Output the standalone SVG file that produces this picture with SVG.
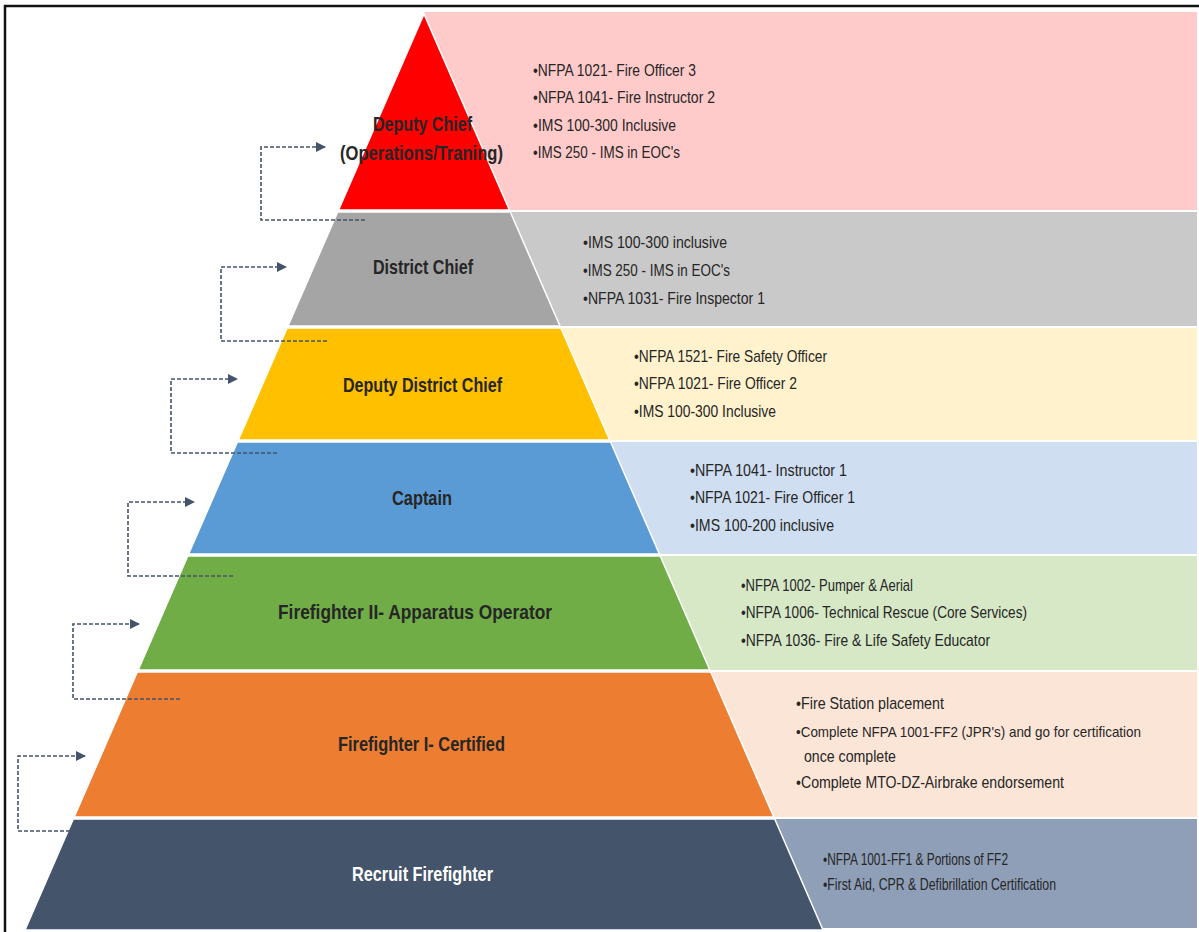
<svg xmlns="http://www.w3.org/2000/svg" width="1199" height="932" viewBox="0 0 1199 932">
<defs>
<style>
.t{font-family:"Liberation Sans",Arial,sans-serif;font-weight:bold;font-size:21px;fill:#262626}
.b{font-family:"Liberation Sans",Arial,sans-serif;font-size:17px;fill:#262626}
.lay{stroke:#ffffff;stroke-width:1.5}
.con{fill:none;stroke:#44546a;stroke-width:1.6;stroke-dasharray:4 2}
</style>
<marker id="ah" viewBox="0 0 10 10" refX="9" refY="5" markerWidth="10" markerHeight="10" markerUnits="userSpaceOnUse" orient="auto">
<path d="M0,0 L10,5 L0,10 z" fill="#44546a"/>
</marker>
</defs>
<rect x="0" y="0" width="1199" height="932" fill="#ffffff"/>
<path d="M5,932 V6 H1199" fill="none" stroke="#111" stroke-width="2.5"/>

<g id="bands">
<rect x="424" y="12" width="773" height="198" fill="#ffcaca"/>
<rect x="424" y="212" width="773" height="114" fill="#c9c9c9"/>
<rect x="424" y="328" width="773" height="112" fill="#fff2cd"/>
<rect x="424" y="442" width="773" height="112" fill="#cfdef0"/>
<rect x="424" y="556" width="773" height="114" fill="#d6e8c6"/>
<rect x="424" y="672" width="773" height="145" fill="#fbe5d6"/>
<rect x="424" y="819" width="773" height="109" fill="#8e9fb7"/>
</g>

<g id="node-deputy-chief">
<polygon class="lay" points="424,14 338.6,210 509.4,210" fill="#fe0000"/>
<text class="t" x="373" y="131" textLength="99" lengthAdjust="spacingAndGlyphs">Deputy Chief</text>
<text class="t" x="340" y="160" textLength="163" lengthAdjust="spacingAndGlyphs">(Operations/Traning)</text>
<text class="b" x="533" y="76" textLength="163" lengthAdjust="spacingAndGlyphs">•NFPA 1021- Fire Officer 3</text>
<text class="b" x="533" y="103" textLength="182" lengthAdjust="spacingAndGlyphs">•NFPA 1041- Fire Instructor 2</text>
<text class="b" x="533" y="131" textLength="143" lengthAdjust="spacingAndGlyphs">•IMS 100-300 Inclusive</text>
<text class="b" x="533" y="158" textLength="147" lengthAdjust="spacingAndGlyphs">•IMS 250 - IMS in EOC's</text>
</g>

<g id="node-district-chief">
<polygon class="lay" points="337.7,212 510.3,212 560,326 288,326" fill="#a5a5a5"/>
<text class="t" x="373" y="274" textLength="100" lengthAdjust="spacingAndGlyphs">District Chief</text>
<text class="b" x="583" y="248" textLength="144" lengthAdjust="spacingAndGlyphs">•IMS 100-300 inclusive</text>
<text class="b" x="583" y="276" textLength="147" lengthAdjust="spacingAndGlyphs">•IMS 250 - IMS in EOC's</text>
<text class="b" x="583" y="304" textLength="182" lengthAdjust="spacingAndGlyphs">•NFPA 1031- Fire Inspector 1</text>
</g>

<g id="node-deputy-district-chief">
<polygon class="lay" points="287.1,328 560.9,328 609.7,440 238.3,440" fill="#ffc000"/>
<text class="t" x="343" y="392" textLength="159" lengthAdjust="spacingAndGlyphs">Deputy District Chief</text>
<text class="b" x="634" y="362" textLength="193" lengthAdjust="spacingAndGlyphs">•NFPA 1521- Fire Safety Officer</text>
<text class="b" x="634" y="389" textLength="163" lengthAdjust="spacingAndGlyphs">•NFPA 1021- Fire Officer 2</text>
<text class="b" x="634" y="417" textLength="142" lengthAdjust="spacingAndGlyphs">•IMS 100-300 Inclusive</text>
</g>

<g id="node-captain">
<polygon class="lay" points="237.4,442 610.6,442 659.4,554 188.6,554" fill="#5b9bd5"/>
<text class="t" x="392" y="505" textLength="60" lengthAdjust="spacingAndGlyphs">Captain</text>
<text class="b" x="690" y="476" textLength="157" lengthAdjust="spacingAndGlyphs">•NFPA 1041- Instructor 1</text>
<text class="b" x="690" y="503" textLength="165" lengthAdjust="spacingAndGlyphs">•NFPA 1021- Fire Officer 1</text>
<text class="b" x="690" y="531" textLength="144" lengthAdjust="spacingAndGlyphs">•IMS 100-200 inclusive</text>
</g>

<g id="node-firefighter-2">
<polygon class="lay" points="187.8,556 660.2,556 709.8,670 138.2,670" fill="#70ad47"/>
<text class="t" x="278" y="619" textLength="274" lengthAdjust="spacingAndGlyphs">Firefighter II- Apparatus Operator</text>
<text class="b" x="741" y="591" textLength="172" lengthAdjust="spacingAndGlyphs">•NFPA 1002- Pumper &amp; Aerial</text>
<text class="b" x="741" y="618" textLength="286" lengthAdjust="spacingAndGlyphs">•NFPA 1006- Technical Rescue (Core Services)</text>
<text class="b" x="741" y="646" textLength="249" lengthAdjust="spacingAndGlyphs">•NFPA 1036- Fire &amp; Life Safety Educator</text>
</g>

<g id="node-firefighter-1">
<polygon class="lay" points="137.3,672 710.7,672 773.8,817 74.2,817" fill="#ed7d31"/>
<text class="t" x="338" y="751" textLength="167" lengthAdjust="spacingAndGlyphs">Firefighter I- Certified</text>
<text class="b" x="796" y="709" textLength="148" lengthAdjust="spacingAndGlyphs">•Fire Station placement</text>
<text class="b" x="796" y="737" textLength="345" lengthAdjust="spacingAndGlyphs" style="font-size:15px">•Complete NFPA 1001-FF2 (JPR's) and go for certification</text>
<text class="b" x="804" y="762" textLength="92" lengthAdjust="spacingAndGlyphs">once complete</text>
<text class="b" x="796" y="788" textLength="268" lengthAdjust="spacingAndGlyphs">•Complete MTO-DZ-Airbrake endorsement</text>
</g>

<g id="node-recruit">
<polygon class="lay" points="73.3,819 774.7,819 823,930 25,930" fill="#44546a"/>
<text class="t" x="352" y="881" textLength="141" lengthAdjust="spacingAndGlyphs" style="fill:#ffffff">Recruit Firefighter</text>
<text class="b" x="823" y="865" textLength="185" lengthAdjust="spacingAndGlyphs">•NFPA 1001-FF1 &amp; Portions of FF2</text>
<text class="b" x="823" y="890" textLength="233" lengthAdjust="spacingAndGlyphs">•First Aid, CPR &amp; Defibrillation Certification</text>
</g>

<g id="connectors">
<path class="con" d="M365,220 H261 V147 H325" marker-end="url(#ah)"/>
<path class="con" d="M327,341 H221 V267 H286" marker-end="url(#ah)"/>
<path class="con" d="M277,453 H171 V379 H237" marker-end="url(#ah)"/>
<path class="con" d="M233,576 H128 V502 H194" marker-end="url(#ah)"/>
<path class="con" d="M180,699 H73 V624 H139" marker-end="url(#ah)"/>
<path class="con" d="M70,831 H18 V756 H85" marker-end="url(#ah)"/>
</g>
</svg>
